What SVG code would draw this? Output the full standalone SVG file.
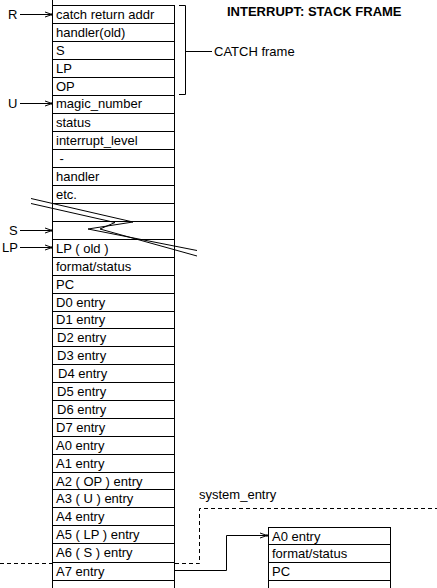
<svg xmlns="http://www.w3.org/2000/svg" width="437" height="588" viewBox="0 0 437 588">
<style>
.cell{fill:#fff;stroke:#000;stroke-width:1}
.t{font-family:"Liberation Sans",Arial,sans-serif;font-size:13px;fill:#000}
.title{font-family:"Liberation Sans",Arial,sans-serif;font-size:13px;font-weight:bold;fill:#000}
.ln{fill:none;stroke:#000;stroke-width:1}
.dash{fill:none;stroke:#000;stroke-width:1;stroke-dasharray:4,3}
</style>
<defs>
<marker id="arr" markerUnits="userSpaceOnUse" markerWidth="12" markerHeight="10" refX="9" refY="5" orient="auto" overflow="visible">
<path d="M2,2.5 L9,5 L2,7.5" fill="none" stroke="#000" stroke-width="1"/>
<rect x="8" y="4" width="2" height="2" fill="#000"/>
</marker>
</defs>
<rect width="437" height="588" fill="#fff"/>
<g id="connectors">
<path class="dash" d="M0,563.5 H199.5 V508.5 H437"/>
<path class="ln" d="M174.5,570.5 H226.5 V535.5 H267" marker-end="url(#arr)"/>
<path class="ln" d="M20,14.5 H52" marker-end="url(#arr)"/>
<path class="ln" d="M20,103.5 H52" marker-end="url(#arr)"/>
<path class="ln" d="M20,230.5 H52" marker-end="url(#arr)"/>
<path class="ln" d="M20,247.5 H52" marker-end="url(#arr)"/>
<path class="ln" d="M179,5.5 H185.5 V94.5 H179 M185.5,51.5 H212"/>
</g>
<g id="stack">
<line class="ln" x1="52.5" y1="0" x2="52.5" y2="5"/>
<g id="r1"><rect class="cell" x="52.5" y="5.5" width="122" height="18"/><text class="t" x="56" y="19">catch return addr</text></g>
<g id="r2"><rect class="cell" x="52.5" y="23.5" width="122" height="18"/><text class="t" x="56" y="37">handler(old)</text></g>
<g id="r3"><rect class="cell" x="52.5" y="41.5" width="122" height="18"/><text class="t" x="56" y="55">S</text></g>
<g id="r4"><rect class="cell" x="52.5" y="59.5" width="122" height="18"/><text class="t" x="56" y="73">LP</text></g>
<g id="r5"><rect class="cell" x="52.5" y="77.5" width="122" height="18"/><text class="t" x="56" y="91">OP</text></g>
<g id="r6"><rect class="cell" x="52.5" y="95.5" width="122" height="18"/><text class="t" x="56" y="108">magic_number</text></g>
<g id="r7"><rect class="cell" x="52.5" y="113.5" width="122" height="18"/><text class="t" x="56" y="127">status</text></g>
<g id="r8"><rect class="cell" x="52.5" y="131.5" width="122" height="18"/><text class="t" x="56" y="145">interrupt_level</text></g>
<g id="r9"><rect class="cell" x="52.5" y="149.5" width="122" height="18"/><text class="t" x="56" y="163" xml:space="preserve"> -</text></g>
<g id="r10"><rect class="cell" x="52.5" y="167.5" width="122" height="18"/><text class="t" x="56" y="181">handler</text></g>
<g id="r11"><rect class="cell" x="52.5" y="185.5" width="122" height="18"/><text class="t" x="56" y="199">etc.</text></g>
<g id="r12"><rect class="cell" x="52.5" y="203.5" width="122" height="18"/></g>
<g id="r13"><rect class="cell" x="52.5" y="221.5" width="122" height="18"/></g>
<g id="r14"><rect class="cell" x="52.5" y="239.5" width="122" height="18"/><text class="t" x="56" y="253">LP ( old )</text></g>
<g id="r15"><rect class="cell" x="52.5" y="257.5" width="122" height="18"/><text class="t" x="56" y="271">format/status</text></g>
<g id="r16"><rect class="cell" x="52.5" y="275.5" width="122" height="18"/><text class="t" x="56" y="289">PC</text></g>
<g id="r17"><rect class="cell" x="52.5" y="293.5" width="122" height="18"/><text class="t" x="56" y="307">D0 entry</text></g>
<g id="r18"><rect class="cell" x="52.5" y="311.5" width="122" height="17"/><text class="t" x="56" y="324">D1 entry</text></g>
<g id="r19"><rect class="cell" x="52.5" y="328.5" width="122" height="18"/><text class="t" x="57" y="342">D2 entry</text></g>
<g id="r20"><rect class="cell" x="52.5" y="346.5" width="122" height="18"/><text class="t" x="57" y="360">D3 entry</text></g>
<g id="r21"><rect class="cell" x="52.5" y="364.5" width="122" height="18"/><text class="t" x="58" y="378">D4 entry</text></g>
<g id="r22"><rect class="cell" x="52.5" y="382.5" width="122" height="18"/><text class="t" x="57" y="396">D5 entry</text></g>
<g id="r23"><rect class="cell" x="52.5" y="400.5" width="122" height="18"/><text class="t" x="57" y="414">D6 entry</text></g>
<g id="r24"><rect class="cell" x="52.5" y="418.5" width="122" height="18"/><text class="t" x="56" y="432">D7 entry</text></g>
<g id="r25"><rect class="cell" x="52.5" y="436.5" width="122" height="18"/><text class="t" x="56" y="450">A0 entry</text></g>
<g id="r26"><rect class="cell" x="52.5" y="454.5" width="122" height="18"/><text class="t" x="56" y="468">A1 entry</text></g>
<g id="r27"><rect class="cell" x="52.5" y="472.5" width="122" height="17"/><text class="t" x="56" y="486">A2 ( OP ) entry</text></g>
<g id="r28"><rect class="cell" x="52.5" y="489.5" width="122" height="18"/><text class="t" x="56" y="503">A3 ( U ) entry</text></g>
<g id="r29"><rect class="cell" x="52.5" y="507.5" width="122" height="18"/><text class="t" x="56" y="521">A4 entry</text></g>
<g id="r30"><rect class="cell" x="52.5" y="525.5" width="122" height="18"/><text class="t" x="56" y="539">A5 ( LP ) entry</text></g>
<g id="r31"><rect class="cell" x="52.5" y="543.5" width="122" height="19"/><text class="t" x="56" y="557">A6 ( S ) entry</text></g>
<g id="r32"><rect class="cell" x="52.5" y="562.5" width="122" height="18"/><text class="t" x="56" y="576">A7 entry</text></g>
<g id="r33"><rect class="cell" x="52.5" y="580.5" width="122" height="20"/></g>
</g>
<g id="entry-frame">
<g id="e1"><rect class="cell" x="268.5" y="527.5" width="122" height="17"/><text class="t" x="272" y="541">A0 entry</text></g>
<g id="e2"><rect class="cell" x="268.5" y="544.5" width="122" height="18"/><text class="t" x="272" y="558">format/status</text></g>
<g id="e3"><rect class="cell" x="268.5" y="562.5" width="122" height="18"/><text class="t" x="272" y="576">PC</text></g>
<g id="e4"><rect class="cell" x="268.5" y="580.5" width="122" height="20"/></g>
</g>
<g id="break">
<polyline class="ln" points="31,198.5 133,222 88,229 197,250.5"/>
<polyline class="ln" points="31,203.5 115,222.5 100,229 197,256"/>
</g>
<g id="labels">
<text class="title" x="227" y="16">INTERRUPT: STACK FRAME</text>
<text class="t" x="214" y="56">CATCH frame</text>
<text class="t" x="199" y="499">system_entry</text>
<text class="t" x="8" y="19">R</text>
<text class="t" x="8" y="108">U</text>
<text class="t" x="9" y="235">S</text>
<text class="t" x="2" y="252">LP</text>
</g>
</svg>
